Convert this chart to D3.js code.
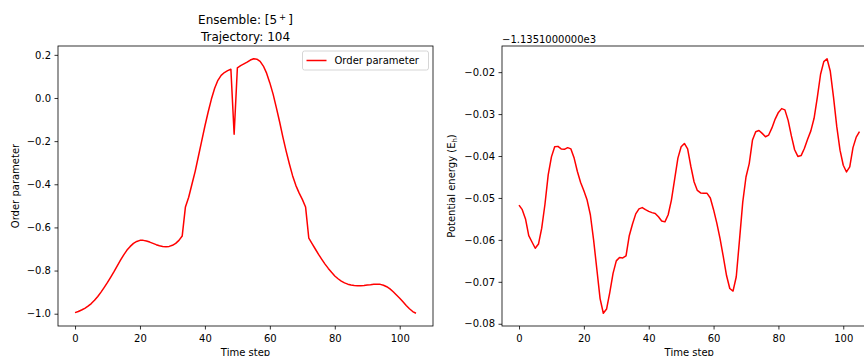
<!DOCTYPE html>
<html>
<head>
<meta charset="utf-8">
<script src="https://cdn.jsdelivr.net/npm/d3@7"></script>
<style>
body { margin: 0; background: #fff; }
svg { display: block; font-family: "DejaVu Sans", sans-serif; }
</style>
</head>
<body>
<svg></svg>
<script>
// order parameter, one value per time step (0..105)
let orderParameter = [
    -0.995, -0.99, -0.983, -0.975, -0.965, -0.953, -0.938, -0.92, -0.90, -0.878,
    -0.855, -0.83, -0.805, -0.778, -0.752, -0.727, -0.705, -0.688, -0.674, -0.665,
    -0.66, -0.66, -0.663, -0.668, -0.674, -0.68, -0.685, -0.688, -0.69, -0.688,
    -0.683, -0.674, -0.66, -0.64, -0.505, -0.46, -0.4, -0.34, -0.27, -0.2,
    -0.13, -0.065, -0.005, 0.045, 0.082, 0.105, 0.118, 0.127, 0.133, -0.168,
    0.14, 0.15, 0.158, 0.166, 0.176, 0.182, 0.18, 0.17, 0.148, 0.115,
    0.07, 0.018, -0.045, -0.11, -0.18, -0.245, -0.305, -0.36, -0.405, -0.44,
    -0.47, -0.505, -0.65, -0.675, -0.7, -0.725, -0.748, -0.77, -0.79, -0.808,
    -0.825, -0.838, -0.849, -0.857, -0.863, -0.867, -0.869, -0.87, -0.87, -0.869,
    -0.867, -0.866, -0.864, -0.863, -0.864, -0.868, -0.875, -0.885, -0.898, -0.913,
    -0.928, -0.945, -0.962, -0.977, -0.99, -0.998
]

// potential energy relative to the offset below
let potentialEnergy = [
    -0.0517, -0.0528, -0.0550, -0.0590, -0.0605, -0.0620, -0.0610, -0.0572, -0.0515, -0.0445,
    -0.0402, -0.0378, -0.0377, -0.0383, -0.0384, -0.0380, -0.0383, -0.0405, -0.0437, -0.0463,
    -0.0483, -0.0505, -0.0540, -0.0600, -0.0670, -0.0740, -0.0775, -0.0765, -0.0725, -0.0680,
    -0.0650, -0.0642, -0.0643, -0.0638, -0.0590, -0.0562, -0.0538, -0.0526, -0.0523, -0.0528,
    -0.0532, -0.0535, -0.0537, -0.0545, -0.0555, -0.0557, -0.0540, -0.0505, -0.0455, -0.0405,
    -0.0378, -0.0370, -0.0383, -0.0425, -0.0462, -0.0482, -0.0488, -0.0489, -0.0489, -0.0500,
    -0.0528, -0.0560, -0.0597, -0.0640, -0.0685, -0.0716, -0.0722, -0.0688, -0.0600, -0.0510,
    -0.0450, -0.0418, -0.0362, -0.0342, -0.0339, -0.0346, -0.0354, -0.0350, -0.0333, -0.0312,
    -0.0296, -0.0287, -0.0290, -0.0315, -0.0352, -0.0385, -0.0401, -0.0399, -0.0382, -0.0360,
    -0.0340, -0.0310, -0.0260, -0.0205, -0.0175, -0.0168, -0.0198, -0.0260, -0.0330, -0.0386,
    -0.0422, -0.0438, -0.0426, -0.0380, -0.0355, -0.0342
]
let energyOffsetLabel = "\u22121.1351000000e3"

let timeTicks = [0, 20, 40, 60, 80, 100]
let orderTicks = [-1.0, -0.8, -0.6, -0.4, -0.2, 0.0, 0.2]
let energyTicks = [-0.08, -0.07, -0.06, -0.05, -0.04, -0.03, -0.02]

let width = 864
let height = 356
let plotTop = 46
let plotBottom = 326

let svg = d3.select("svg")
    .attr("width", width)
    .attr("height", height)

// matplotlib style 5% margins
let pad = (lo, hi) => [lo - 0.05 * (hi - lo), hi + 0.05 * (hi - lo)]

let drawPanel = (x0, x1, values, yTicks, fmt) => {
    let xScale = d3.scaleLinear()
        .domain(pad(0, values.length - 1))
        .range([x0, x1])
    let yScale = d3.scaleLinear()
        .domain(pad(d3.min(values), d3.max(values)))
        .range([plotBottom, plotTop])

    let g = svg.append("g")

    let xAxis = d3.axisBottom(xScale).tickValues(timeTicks).tickSize(3.5).tickPadding(3.5).tickSizeOuter(0)
    let yAxis = d3.axisLeft(yScale).tickValues(yTicks).tickFormat(d3.format(fmt)).tickSize(3.5).tickPadding(3.5).tickSizeOuter(0)

    let xg = g.append("g")
        .attr("transform", "translate(0," + plotBottom + ")")
        .call(xAxis)
    let yg = g.append("g")
        .attr("transform", "translate(" + x0 + ",0)")
        .call(yAxis)

    ;[xg, yg].forEach(a => {
        a.select(".domain").remove()
        a.attr("font-family", null).attr("font-size", 10)
        a.selectAll("line").attr("stroke", "#000").attr("stroke-width", 0.8)
        a.selectAll("text").attr("fill", "#000")
    })
    xg.selectAll("text").attr("dy", "0.85em")

    let line = d3.line()
        .x((d, i) => xScale(i))
        .y(d => yScale(d))

    g.append("path")
        .datum(values)
        .attr("d", line)
        .attr("fill", "none")
        .attr("stroke", "#ff0000")
        .attr("stroke-width", 1.5)
        .attr("stroke-linejoin", "round")

    // spines
    g.append("rect")
        .attr("x", x0)
        .attr("y", plotTop)
        .attr("width", x1 - x0)
        .attr("height", plotBottom - plotTop)
        .attr("fill", "none")
        .attr("stroke", "#000")
        .attr("stroke-width", 0.8)

    g.append("text")
        .attr("x", (x0 + x1) / 2)
        .attr("y", 355.5)
        .attr("text-anchor", "middle")
        .attr("font-size", 10)
        .text("Time step")
}

drawPanel(58, 433, orderParameter, orderTicks, ".1f")
drawPanel(502, 876.5, potentialEnergy, energyTicks, ".2f")

// title
let title = svg.append("text")
    .attr("x", 245.5)
    .attr("y", 24)
    .attr("text-anchor", "middle")
    .attr("font-size", 12)
title.append("tspan").text("Ensemble: [5")
title.append("tspan").attr("dx", 2).attr("dy", -4.5).attr("font-size", 8.5).text("+")
title.append("tspan").attr("dx", 2).attr("dy", 4.5).text("]")

svg.append("text")
    .attr("x", 245.5)
    .attr("y", 40.5)
    .attr("text-anchor", "middle")
    .attr("font-size", 12)
    .text("Trajectory: 104")

// y labels
svg.append("text")
    .attr("transform", "translate(19,186) rotate(-90)")
    .attr("text-anchor", "middle")
    .attr("font-size", 10)
    .text("Order parameter")

let eLabel = svg.append("text")
    .attr("transform", "translate(454.5,186) rotate(-90)")
    .attr("text-anchor", "middle")
    .attr("font-size", 10)
eLabel.append("tspan").text("Potential energy (E")
eLabel.append("tspan").attr("dy", 2.5).attr("font-size", 7).text("h")
eLabel.append("tspan").attr("dy", -2.5).text(")")

svg.append("text")
    .attr("x", 502)
    .attr("y", 42.5)
    .attr("font-size", 10)
    .text(energyOffsetLabel)

// legend
let legend = svg.append("g")
legend.append("rect")
    .attr("x", 302.5)
    .attr("y", 51)
    .attr("width", 126)
    .attr("height", 19)
    .attr("rx", 2)
    .attr("fill", "#fff")
    .attr("fill-opacity", 0.8)
    .attr("stroke", "#ccc")
    .attr("stroke-width", 0.8)
legend.append("line")
    .attr("x1", 306.5)
    .attr("x2", 326.5)
    .attr("y1", 60.5)
    .attr("y2", 60.5)
    .attr("stroke", "#ff0000")
    .attr("stroke-width", 1.5)
legend.append("text")
    .attr("x", 334.5)
    .attr("y", 60.5)
    .attr("dy", "0.35em")
    .attr("font-size", 10)
    .text("Order parameter")
</script>
</body>
</html>
